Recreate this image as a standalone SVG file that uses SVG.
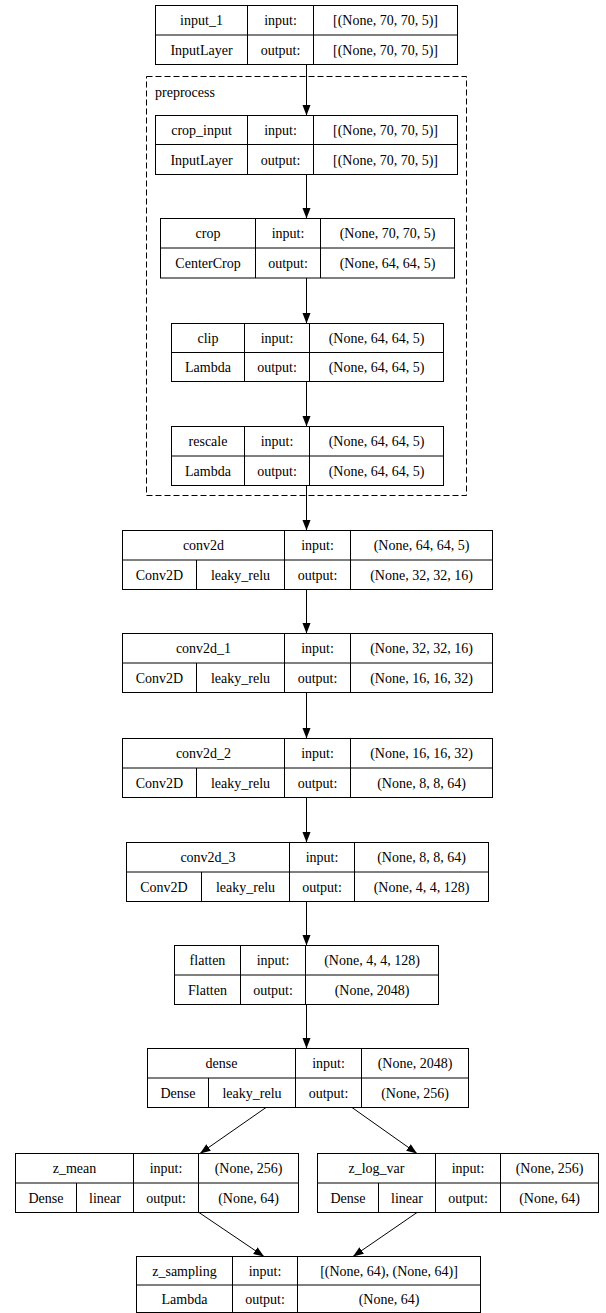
<svg xmlns="http://www.w3.org/2000/svg" width="606" height="1313" viewBox="0 0 606 1313">
  <style>
    .box { fill: #ffffff; stroke: #000000; stroke-width: 1; }
    .sep { stroke: #000000; stroke-width: 1; fill: none; }
    .t { font-family: 'Liberation Serif', 'Times New Roman', serif; font-size: 14px; text-anchor: middle; fill: #000000; }
    .lbl { font-family: 'Liberation Serif', 'Times New Roman', serif; font-size: 14px; fill: #000000; }
    .edge { stroke: #000000; stroke-width: 1; fill: none; marker-end: url(#arrow); }
    .cluster { fill: none; stroke: #000000; stroke-width: 1; stroke-dasharray: 6,3; }
  </style>
  <defs>
    <marker id="arrow" markerUnits="userSpaceOnUse" markerWidth="11" markerHeight="9" refX="10.5" refY="4" orient="auto">
      <path d="M0,0 L10.5,4 L0,8 z" fill="#000000"/>
    </marker>
  </defs>
  <rect x="0" y="0" width="606" height="1313" fill="#ffffff"/>

  <!-- preprocess sub-model cluster -->
  <g id="preprocess">
    <rect class="cluster" x="146.5" y="76.5" width="320" height="419"/>
    <text class="lbl" x="155" y="97">preprocess</text>
  </g>

  <!-- connectors -->
  <g id="edges">
    <line class="edge" x1="306.5" y1="64.5" x2="306.5" y2="115.5"/>
    <line class="edge" x1="306.5" y1="174.5" x2="306.5" y2="218.5"/>
    <line class="edge" x1="306.5" y1="278" x2="306.5" y2="323.5"/>
    <line class="edge" x1="306.5" y1="381.5" x2="306.5" y2="426.5"/>
    <line class="edge" x1="306.5" y1="485.5" x2="306.5" y2="530.5"/>
    <line class="edge" x1="306.5" y1="589.5" x2="306.5" y2="633.5"/>
    <line class="edge" x1="306.5" y1="692.5" x2="306.5" y2="738.5"/>
    <line class="edge" x1="306.5" y1="797.5" x2="306.5" y2="842.5"/>
    <line class="edge" x1="306.5" y1="901.5" x2="306.5" y2="945.5"/>
    <line class="edge" x1="306.5" y1="1004.5" x2="306.5" y2="1048.5"/>
    <line class="edge" x1="266" y1="1107.5" x2="200" y2="1153.5"/>
    <line class="edge" x1="352" y1="1107.5" x2="417" y2="1153.5"/>
    <line class="edge" x1="199" y1="1212.5" x2="264" y2="1256.5"/>
    <line class="edge" x1="417" y1="1212.5" x2="353" y2="1256.5"/>
  </g>

  <!-- input_1 -->
  <g id="input_1">
    <rect class="box" x="155.5" y="5.5" width="302" height="59"/>
    <path class="sep" d="M155.5,35 H457.5 M247.5,5.5 V64.5 M313.5,5.5 V64.5"/>
    <text class="t" x="201.5" y="25">input_1</text>
    <text class="t" x="280.5" y="25">input:</text>
    <text class="t" x="385.5" y="25">[(None, 70, 70, 5)]</text>
    <text class="t" x="201.5" y="55">InputLayer</text>
    <text class="t" x="280.5" y="55">output:</text>
    <text class="t" x="385.5" y="55">[(None, 70, 70, 5)]</text>
  </g>

  <!-- crop_input -->
  <g id="crop_input">
    <rect class="box" x="155.5" y="115.5" width="302" height="59"/>
    <path class="sep" d="M155.5,144.5 H457.5 M247.5,115.5 V174.5 M313.5,115.5 V174.5"/>
    <text class="t" x="201.5" y="135">crop_input</text>
    <text class="t" x="280.5" y="135">input:</text>
    <text class="t" x="385.5" y="135">[(None, 70, 70, 5)]</text>
    <text class="t" x="201.5" y="164.5">InputLayer</text>
    <text class="t" x="280.5" y="164.5">output:</text>
    <text class="t" x="385.5" y="164.5">[(None, 70, 70, 5)]</text>
  </g>

  <!-- crop -->
  <g id="crop">
    <rect class="box" x="160.5" y="218.5" width="294" height="59.5"/>
    <path class="sep" d="M160.5,248 H454.5 M255.5,218.5 V278 M320.5,218.5 V278"/>
    <text class="t" x="208" y="238">crop</text>
    <text class="t" x="288" y="238">input:</text>
    <text class="t" x="387.5" y="238">(None, 70, 70, 5)</text>
    <text class="t" x="208" y="268">CenterCrop</text>
    <text class="t" x="288" y="268">output:</text>
    <text class="t" x="387.5" y="268">(None, 64, 64, 5)</text>
  </g>

  <!-- clip -->
  <g id="clip">
    <rect class="box" x="171.5" y="323.5" width="272" height="58"/>
    <path class="sep" d="M171.5,352.5 H443.5 M244.5,323.5 V381.5 M309.5,323.5 V381.5"/>
    <text class="t" x="208" y="343">clip</text>
    <text class="t" x="277" y="343">input:</text>
    <text class="t" x="376.5" y="343">(None, 64, 64, 5)</text>
    <text class="t" x="208" y="372">Lambda</text>
    <text class="t" x="277" y="372">output:</text>
    <text class="t" x="376.5" y="372">(None, 64, 64, 5)</text>
  </g>

  <!-- rescale -->
  <g id="rescale">
    <rect class="box" x="171.5" y="426.5" width="272" height="59"/>
    <path class="sep" d="M171.5,456 H443.5 M244.5,426.5 V485.5 M309.5,426.5 V485.5"/>
    <text class="t" x="208" y="446">rescale</text>
    <text class="t" x="277" y="446">input:</text>
    <text class="t" x="376.5" y="446">(None, 64, 64, 5)</text>
    <text class="t" x="208" y="476">Lambda</text>
    <text class="t" x="277" y="476">output:</text>
    <text class="t" x="376.5" y="476">(None, 64, 64, 5)</text>
  </g>

  <!-- conv2d -->
  <g id="conv2d">
    <rect class="box" x="122.5" y="530.5" width="370" height="59"/>
    <path class="sep" d="M122.5,560 H492.5 M196.5,560 V589.5 M284.5,530.5 V589.5 M350.5,530.5 V589.5"/>
    <text class="t" x="203.5" y="550">conv2d</text>
    <text class="t" x="317.5" y="550">input:</text>
    <text class="t" x="421.5" y="550">(None, 64, 64, 5)</text>
    <text class="t" x="159.5" y="580">Conv2D</text>
    <text class="t" x="240.5" y="580">leaky_relu</text>
    <text class="t" x="317.5" y="580">output:</text>
    <text class="t" x="421.5" y="580">(None, 32, 32, 16)</text>
  </g>

  <!-- conv2d_1 -->
  <g id="conv2d_1">
    <rect class="box" x="122.5" y="633.5" width="370" height="59"/>
    <path class="sep" d="M122.5,663 H492.5 M196.5,663 V692.5 M284.5,633.5 V692.5 M350.5,633.5 V692.5"/>
    <text class="t" x="203.5" y="653">conv2d_1</text>
    <text class="t" x="317.5" y="653">input:</text>
    <text class="t" x="421.5" y="653">(None, 32, 32, 16)</text>
    <text class="t" x="159.5" y="683">Conv2D</text>
    <text class="t" x="240.5" y="683">leaky_relu</text>
    <text class="t" x="317.5" y="683">output:</text>
    <text class="t" x="421.5" y="683">(None, 16, 16, 32)</text>
  </g>

  <!-- conv2d_2 -->
  <g id="conv2d_2">
    <rect class="box" x="122.5" y="738.5" width="370" height="59"/>
    <path class="sep" d="M122.5,768 H492.5 M196.5,768 V797.5 M284.5,738.5 V797.5 M350.5,738.5 V797.5"/>
    <text class="t" x="203.5" y="758">conv2d_2</text>
    <text class="t" x="317.5" y="758">input:</text>
    <text class="t" x="421.5" y="758">(None, 16, 16, 32)</text>
    <text class="t" x="159.5" y="788">Conv2D</text>
    <text class="t" x="240.5" y="788">leaky_relu</text>
    <text class="t" x="317.5" y="788">output:</text>
    <text class="t" x="421.5" y="788">(None, 8, 8, 64)</text>
  </g>

  <!-- conv2d_3 -->
  <g id="conv2d_3">
    <rect class="box" x="126.5" y="842.5" width="362" height="59"/>
    <path class="sep" d="M126.5,872 H488.5 M201.5,872 V901.5 M289.5,842.5 V901.5 M354.5,842.5 V901.5"/>
    <text class="t" x="208" y="862">conv2d_3</text>
    <text class="t" x="322" y="862">input:</text>
    <text class="t" x="421.5" y="862">(None, 8, 8, 64)</text>
    <text class="t" x="164" y="892">Conv2D</text>
    <text class="t" x="245.5" y="892">leaky_relu</text>
    <text class="t" x="322" y="892">output:</text>
    <text class="t" x="421.5" y="892">(None, 4, 4, 128)</text>
  </g>

  <!-- flatten -->
  <g id="flatten">
    <rect class="box" x="174.5" y="945.5" width="264" height="59"/>
    <path class="sep" d="M174.5,975 H438.5 M240.5,945.5 V1004.5 M305.5,945.5 V1004.5"/>
    <text class="t" x="207.5" y="965">flatten</text>
    <text class="t" x="273" y="965">input:</text>
    <text class="t" x="372" y="965">(None, 4, 4, 128)</text>
    <text class="t" x="207.5" y="995">Flatten</text>
    <text class="t" x="273" y="995">output:</text>
    <text class="t" x="372" y="995">(None, 2048)</text>
  </g>

  <!-- dense -->
  <g id="dense">
    <rect class="box" x="147.5" y="1048.5" width="321" height="59"/>
    <path class="sep" d="M147.5,1078 H468.5 M208.5,1078 V1107.5 M295.5,1048.5 V1107.5 M361.5,1048.5 V1107.5"/>
    <text class="t" x="221.5" y="1068">dense</text>
    <text class="t" x="328.5" y="1068">input:</text>
    <text class="t" x="415" y="1068">(None, 2048)</text>
    <text class="t" x="178" y="1098">Dense</text>
    <text class="t" x="252" y="1098">leaky_relu</text>
    <text class="t" x="328.5" y="1098">output:</text>
    <text class="t" x="415" y="1098">(None, 256)</text>
  </g>

  <!-- z_mean -->
  <g id="z_mean">
    <rect class="box" x="15.5" y="1153.5" width="283" height="59"/>
    <path class="sep" d="M15.5,1183 H298.5 M76.5,1183 V1212.5 M133.5,1153.5 V1212.5 M198.5,1153.5 V1212.5"/>
    <text class="t" x="74.5" y="1173">z_mean</text>
    <text class="t" x="166" y="1173">input:</text>
    <text class="t" x="248.5" y="1173">(None, 256)</text>
    <text class="t" x="46" y="1203">Dense</text>
    <text class="t" x="105" y="1203">linear</text>
    <text class="t" x="166" y="1203">output:</text>
    <text class="t" x="248.5" y="1203">(None, 64)</text>
  </g>

  <!-- z_log_var -->
  <g id="z_log_var">
    <rect class="box" x="317.5" y="1153.5" width="281" height="59"/>
    <path class="sep" d="M317.5,1183 H598.5 M378.5,1183 V1212.5 M435.5,1153.5 V1212.5 M500.5,1153.5 V1212.5"/>
    <text class="t" x="376.5" y="1173">z_log_var</text>
    <text class="t" x="468" y="1173">input:</text>
    <text class="t" x="549.5" y="1173">(None, 256)</text>
    <text class="t" x="348" y="1203">Dense</text>
    <text class="t" x="407" y="1203">linear</text>
    <text class="t" x="468" y="1203">output:</text>
    <text class="t" x="549.5" y="1203">(None, 64)</text>
  </g>

  <!-- z_sampling -->
  <g id="z_sampling">
    <rect class="box" x="136.5" y="1256.5" width="344" height="56"/>
    <path class="sep" d="M136.5,1285 H480.5 M232.5,1256.5 V1312.5 M297.5,1256.5 V1312.5"/>
    <text class="t" x="184.5" y="1276">z_sampling</text>
    <text class="t" x="265" y="1276">input:</text>
    <text class="t" x="389" y="1276">[(None, 64), (None, 64)]</text>
    <text class="t" x="184.5" y="1304">Lambda</text>
    <text class="t" x="265" y="1304">output:</text>
    <text class="t" x="389" y="1304">(None, 64)</text>
  </g>
</svg>
